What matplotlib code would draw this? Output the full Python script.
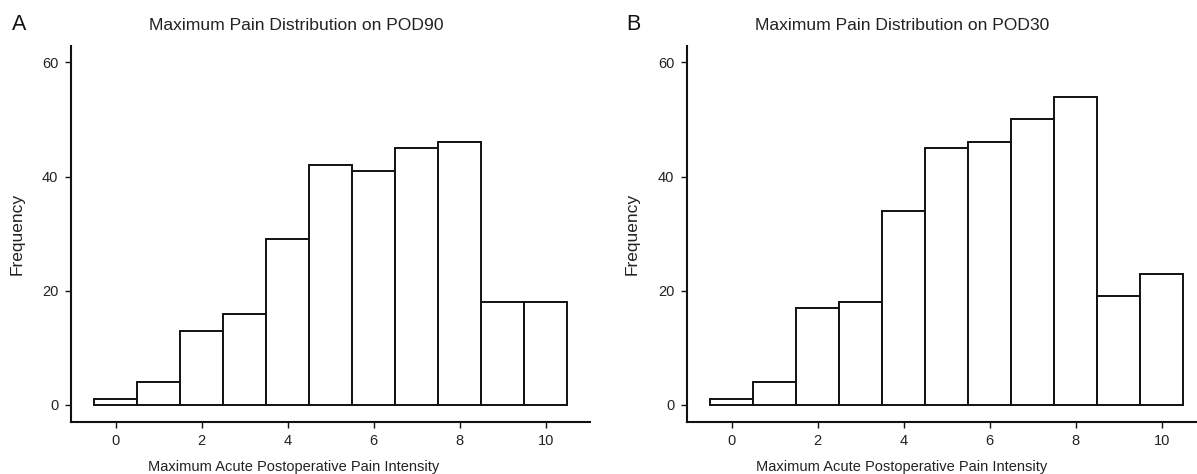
import matplotlib
matplotlib.use("Agg")
import matplotlib.pyplot as plt

pain_scores = [0, 1, 2, 3, 4, 5, 6, 7, 8, 9, 10]
freq_pod90 = [1, 4, 13, 16, 29, 42, 41, 45, 46, 18, 18]
freq_pod30 = [1, 4, 17, 18, 34, 45, 46, 50, 54, 19, 23]
x_ticks = [0, 2, 4, 6, 8, 10]
y_ticks = [0, 20, 40, 60]
titles = ["Maximum Pain Distribution on POD90", "Maximum Pain Distribution on POD30"]
panel_letters = ["A", "B"]
xlabel = "Maximum Acute Postoperative Pain Intensity"
ylabel = "Frequency"

plt.rcParams['font.family'] = ['Liberation Sans', 'DejaVu Sans']

W, H = 1197, 474
fig = plt.figure(figsize=(W / 100, H / 100), dpi=100)

def px_axes(left, right, top, bottom):
    return [left / W, 1 - bottom / H, (right - left) / W, (bottom - top) / H]

axes_px = [(71, 590, 45.7, 422), (687, 1206, 45.7, 422)]
title_x = [296, 902]
xlabel_x = [294, 902]
letter_x = [19, 633]
ylabel_x = [17, 632]
data = [freq_pod90, freq_pod30]

txt_color = "#222222"
for i in range(2):
    l, r, t, b = axes_px[i]
    ax = fig.add_axes(px_axes(l, r, t, b))
    ax.bar(pain_scores, data[i], width=1.0, color="white", edgecolor="#111111",
           linewidth=1.4, align="center")
    ax.set_xlim(-1.04, 11.03)
    ax.set_ylim(-2.98, 62.9)
    ax.set_xticks(x_ticks)
    ax.set_yticks(y_ticks)
    ax.set_xticklabels([str(v) for v in x_ticks])
    ax.set_yticklabels([str(v) for v in y_ticks])
    for s in ["top", "right"]:
        ax.spines[s].set_visible(False)
    for s in ["left", "bottom"]:
        ax.spines[s].set_linewidth(1.5)
        ax.spines[s].set_color("#111111")
    ax.tick_params(axis="both", direction="out", length=4, width=1.0,
                   colors="#111111", labelcolor=txt_color, labelsize=10.5)
    ax.tick_params(axis="y", pad=5)
    ax.tick_params(axis="x", pad=4.5)
    fig.text(title_x[i] / W, 1 - 25 / H, titles[i], ha="center", va="center",
             fontsize=12.6, color=txt_color)
    fig.text(letter_x[i] / W, 1 - 24 / H, panel_letters[i], ha="center", va="center",
             fontsize=15.5, color="#111111")
    fig.text(xlabel_x[i] / W, 1 - 467 / H, xlabel, ha="center", va="center",
             fontsize=10.5, color=txt_color)
    fig.text(ylabel_x[i] / W, 1 - 234 / H, ylabel, ha="center", va="center",
             rotation=90, fontsize=12.5, color=txt_color)

fig.savefig("out.png", dpi=100, facecolor="white")
